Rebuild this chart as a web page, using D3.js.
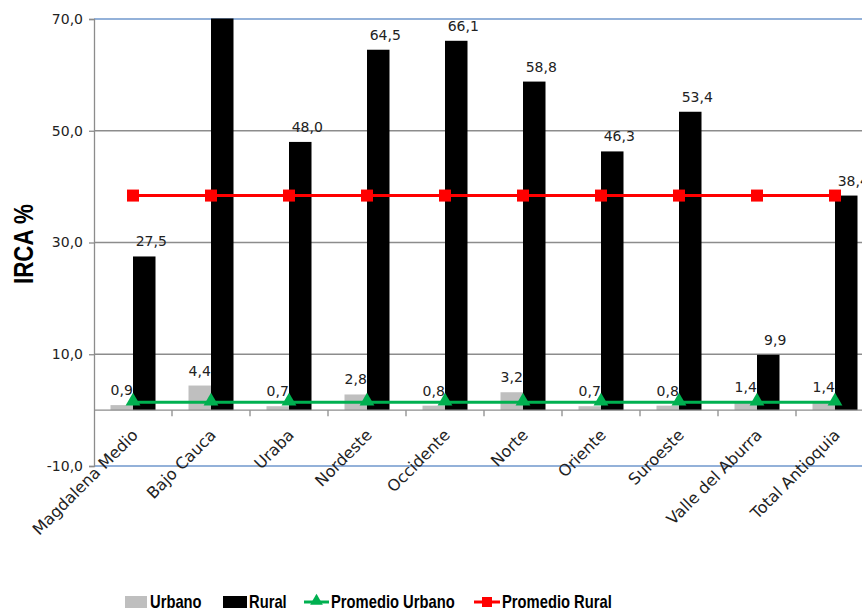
<!DOCTYPE html>
<meta charset="utf-8">
<script src="https://d3js.org/d3.v7.min.js"></script>
<style>
  body { margin: 0; background: #fff; }
  svg { display: block; }
</style>
<div id="my_dataviz"></div>
<script>
// data
var categories = ["Magdalena Medio", "Bajo Cauca", "Uraba", "Nordeste", "Occidente",
                  "Norte", "Oriente", "Suroeste", "Valle del Aburra", "Total Antioquia"];
var urbano = [0.9, 4.4, 0.7, 2.8, 0.8, 3.2, 0.7, 0.8, 1.4, 1.4];
var rural = [27.5, 75.0, 48.0, 64.5, 66.1, 58.8, 46.3, 53.4, 9.9, 38.4];
var promUrbano = [1.4, 1.4, 1.4, 1.4, 1.4, 1.4, 1.4, 1.4, 1.4, 1.4];
var promRural = [38.4, 38.4, 38.4, 38.4, 38.4, 38.4, 38.4, 38.4, 38.4, 38.4];
var yTicks = [-10, 10, 30, 50, 70];

var W = 862, H = 612;
var fmt = function(v) { return d3.format(".1f")(v).replace(".", ",").replace("\u2212", "-"); };

var svg = d3.select("#my_dataviz")
  .append("svg")
    .attr("width", W)
    .attr("height", H);

var x = d3.scaleBand()
  .domain(categories)
  .range([94, 874])
  .padding(0);

var y = d3.scaleLinear()
  .domain([-10, 70])
  .range([466, 19]);

var barW = 22.5;

// clip for the plot area (labels may go a bit above it)
svg.append("clipPath").attr("id", "plotclip")
  .append("rect")
    .attr("x", 94).attr("y", y(70) - 0.5)
    .attr("width", 800).attr("height", y(-10) - y(70) + 1);
svg.append("clipPath").attr("id", "labelclip")
  .append("rect")
    .attr("x", 0).attr("y", 2)
    .attr("width", 900).attr("height", 500);

// gridlines
svg.append("g")
  .selectAll("line")
  .data(yTicks)
  .enter()
  .append("line")
    .attr("x1", 94).attr("x2", 874)
    .attr("y1", function(d) { return y(d); })
    .attr("y2", function(d) { return y(d); })
    .attr("stroke", function(d) { return (d == 70 || d == -10) ? "#6f97cc" : "#8c8c8c"; })
    .attr("stroke-width", 1.3);

// y axis
var yAxis = svg.append("g")
  .attr("transform", "translate(94,0)")
  .call(d3.axisLeft(y).tickValues(yTicks).tickSize(5).tickPadding(6).tickFormat(fmt));
yAxis.select(".domain").attr("stroke", "#8c8c8c").attr("stroke-width", 1.3);
yAxis.selectAll(".tick line").attr("stroke", "#8c8c8c").attr("stroke-width", 1.3);
yAxis.selectAll(".tick text")
  .attr("font-family", "DejaVu Sans")
  .attr("font-size", 14)
  .attr("fill", "#222");

var plot = svg.append("g").attr("clip-path", "url(#plotclip)");

// bars
plot.append("g")
  .selectAll("rect")
  .data(categories)
  .enter()
  .append("rect")
    .attr("x", function(d) { return x(d) + x.bandwidth() / 2 - barW; })
    .attr("y", function(d, i) { return y(urbano[i]); })
    .attr("width", barW)
    .attr("height", function(d, i) { return y(0) - y(urbano[i]); })
    .attr("fill", "#bfbfbf");

plot.append("g")
  .selectAll("rect")
  .data(categories)
  .enter()
  .append("rect")
    .attr("x", function(d) { return x(d) + x.bandwidth() / 2; })
    .attr("y", function(d, i) { return y(rural[i]); })
    .attr("width", barW)
    .attr("height", function(d, i) { return y(0) - y(rural[i]); })
    .attr("fill", "#000");

// x axis at zero
var xAxis = svg.append("g")
  .attr("transform", "translate(0," + y(0) + ")");
xAxis.append("line")
  .attr("x1", 94).attr("x2", 874)
  .attr("stroke", "#8c8c8c").attr("stroke-width", 1.3);
xAxis.selectAll(".tk")
  .data(categories.slice(1))
  .enter()
  .append("line")
    .attr("class", "tk")
    .attr("x1", function(d) { return x(d); })
    .attr("x2", function(d) { return x(d); })
    .attr("y1", 0).attr("y2", 6)
    .attr("stroke", "#8c8c8c").attr("stroke-width", 1.3);
xAxis.selectAll("text")
  .data(categories)
  .enter()
  .append("text")
    .attr("transform", function(d) {
      return "translate(" + (x(d) + x.bandwidth() / 2 + 6) + ",26) rotate(-45)";
    })
    .attr("text-anchor", "end")
    .attr("font-family", "DejaVu Sans")
    .attr("font-size", 16)
    .attr("fill", "#222")
    .text(function(d) { return d; });

// average lines
var cx = function(d) { return x(d) + x.bandwidth() / 2; };

var lineU = d3.line()
  .x(function(d, i) { return cx(categories[i]); })
  .y(function(d) { return y(d); });

plot.append("path")
  .datum(promUrbano)
  .attr("d", lineU)
  .attr("fill", "none")
  .attr("stroke", "#00b050")
  .attr("stroke-width", 3);

plot.append("path")
  .datum(promRural)
  .attr("d", lineU)
  .attr("fill", "none")
  .attr("stroke", "#ff0000")
  .attr("stroke-width", 3);

var tri = d3.symbol().type(d3.symbolTriangle).size(95);
svg.append("g")
  .selectAll("path")
  .data(promUrbano)
  .enter()
  .append("path")
    .attr("d", tri)
    .attr("transform", function(d, i) { return "translate(" + cx(categories[i]) + "," + (y(d) - 1) + ")"; })
    .attr("fill", "#00b050");

svg.append("g")
  .selectAll("rect")
  .data(promRural)
  .enter()
  .append("rect")
    .attr("x", function(d, i) { return cx(categories[i]) - 6; })
    .attr("y", function(d) { return y(d) - 6; })
    .attr("width", 12).attr("height", 12)
    .attr("fill", "#ff0000");

// value labels
var labels = svg.append("g").attr("clip-path", "url(#labelclip)");
labels.append("g")
  .selectAll("text")
  .data(urbano)
  .enter()
  .append("text")
    .attr("x", function(d, i) { return cx(categories[i]) - barW / 2; })
    .attr("y", function(d) { return y(d) - 10; })
    .attr("text-anchor", "middle")
    .attr("font-family", "DejaVu Sans")
    .attr("font-size", 14)
    .attr("fill", "#222")
    .text(fmt);

labels.append("g")
  .selectAll("text")
  .data(rural.filter(function(d) { return d <= 70; }))
  .enter()
  .append("text")
    .attr("x", function(d) { return cx(categories[rural.indexOf(d)]) + barW / 2 + 7; })
    .attr("y", function(d) { return y(d) - 10; })
    .attr("text-anchor", "middle")
    .attr("font-family", "DejaVu Sans")
    .attr("font-size", 14)
    .attr("fill", "#222")
    .text(fmt);

// y title
svg.append("text")
  .attr("transform", "translate(33,244) rotate(-90) scale(0.83,1)")
  .attr("text-anchor", "middle")
  .attr("font-family", "Liberation Sans")
  .attr("font-weight", "bold")
  .attr("font-size", 27)
  .attr("fill", "#000")
  .text("IRCA %");

// legend
var legend = svg.append("g").attr("font-family", "Liberation Sans")
  .attr("font-weight", "bold").attr("font-size", 18).attr("fill", "#000");
var ltext = function(x0, s) {
  legend.append("text")
    .attr("transform", "translate(" + x0 + ",608) scale(0.82,1)")
    .text(s);
};
legend.append("rect").attr("x", 125).attr("y", 596).attr("width", 22).attr("height", 12).attr("fill", "#bfbfbf");
ltext(150, "Urbano");
legend.append("rect").attr("x", 223).attr("y", 596).attr("width", 24).attr("height", 12).attr("fill", "#000");
ltext(249, "Rural");
legend.append("line").attr("x1", 304).attr("x2", 329).attr("y1", 602).attr("y2", 602)
  .attr("stroke", "#00b050").attr("stroke-width", 3);
legend.append("path").attr("d", d3.symbol().type(d3.symbolTriangle).size(70))
  .attr("transform", "translate(316.5,601)").attr("fill", "#00b050");
ltext(331, "Promedio Urbano");
legend.append("line").attr("x1", 474).attr("x2", 500).attr("y1", 602).attr("y2", 602)
  .attr("stroke", "#ff0000").attr("stroke-width", 3);
legend.append("rect").attr("x", 482).attr("y", 597).attr("width", 10).attr("height", 10).attr("fill", "#ff0000");
ltext(502, "Promedio Rural");
</script>
